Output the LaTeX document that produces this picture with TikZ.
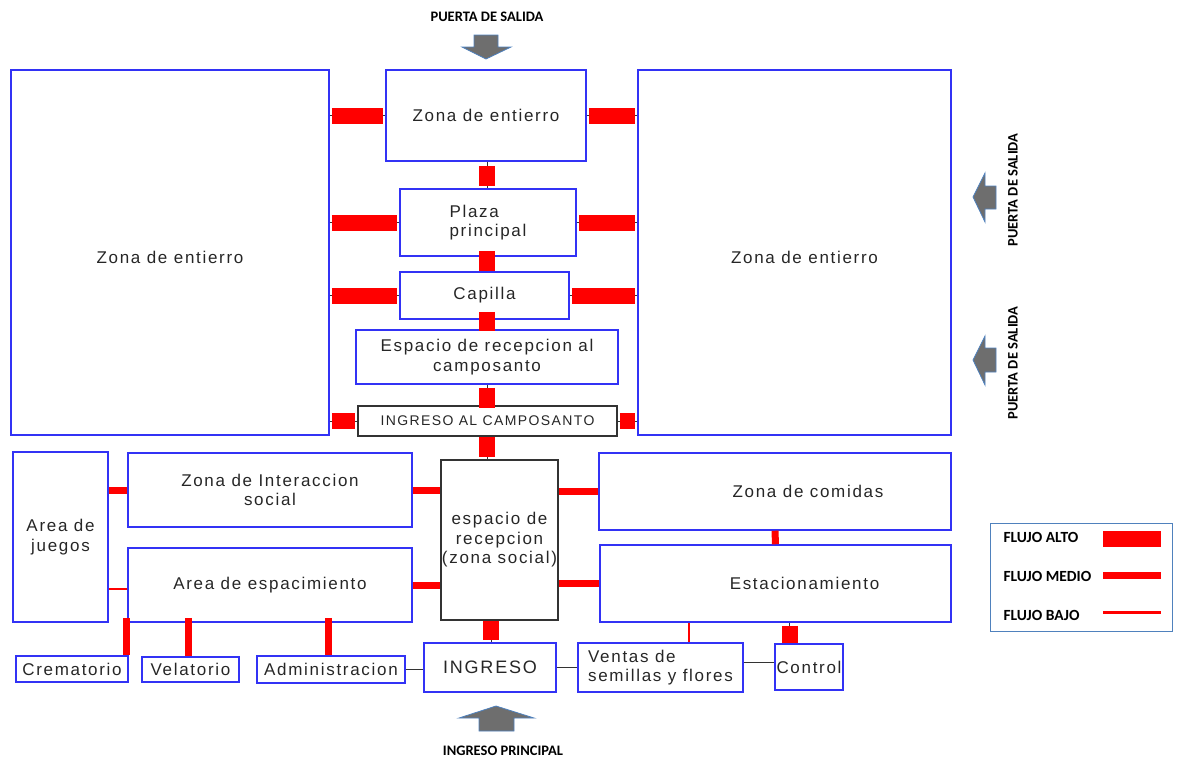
\documentclass[tikz,border=0pt]{standalone}
\usepackage{fontspec}
\setmainfont{Liberation Sans}[LetterSpace=10]
\newfontfamily\rotfont{Carlito}
\usepackage{xcolor}
\definecolor{azulzona}{RGB}{50,50,245}
\definecolor{rojoflujo}{RGB}{255,0,0}
\definecolor{grisflecha}{RGB}{110,110,110}
\definecolor{bordeflecha}{RGB}{79,129,189}
\definecolor{textozona}{RGB}{38,38,38}

\begin{document}
\begin{tikzpicture}[x=1pt,y=-1pt,
  texto/.style={text=textozona,font=\fontsize{17}{19.5}\selectfont},
  zona/.style={texto,draw=azulzona,line width=1.5pt,inner sep=1pt,align=center},
  zonanegra/.style={zona,draw=black!80},
  enlace/.style={black!80,line width=0.8pt},
  alto/.style={rojoflujo,line width=16pt,shorten <=2pt,shorten >=2pt},
  medio/.style={rojoflujo,line width=7pt},
  bajo/.style={rojoflujo,line width=2.5pt},
  flecha/.style={fill=grisflecha,draw=bordeflecha,line width=0.8pt},
  rotulo/.style={font=\rotfont\bfseries\fontsize{14.5}{16}\selectfont}]
  \useasboundingbox (0,0) rectangle (1179,758);

  % zonas de entierro y eje del camposanto
  \node[zona,minimum width=318pt,minimum height=365pt,
    label={[texto,yshift=-5pt]center:Zona de entierro}] (zizq) at (170,252.5) {};
  \node[zona,minimum width=313pt,minimum height=365pt,
    label={[texto,xshift=10pt,yshift=-5pt]center:Zona de entierro}] (zder) at (794.5,252.5) {};
  \node[zona,minimum width=200pt,minimum height=91pt] (zcen) at (486,115.5) {Zona de entierro};
  \node[zona,minimum width=176pt,minimum height=67pt,align=left] (plaza) at (488,222.5) {Plaza\\principal};
  \node[zona,minimum width=169pt,minimum height=47pt] (capilla) at (484.5,295.5) {Capilla};
  \node[zona,minimum width=262pt,minimum height=54pt] (recep) at (487,357) {Espacio de recepcion al\\camposanto};
  \node[zonanegra,minimum width=259pt,minimum height=30pt,font=\fontsize{14}{16}\selectfont] (ingcamp) at (487.5,421) {INGRESO AL CAMPOSANTO};

  % zona social
  \node[zona,minimum width=95pt,minimum height=170pt] (juegos) at (60.5,537) {Area de\\juegos};
  \node[zona,minimum width=284pt,minimum height=74pt] (interac) at (270,490) {Zona de Interaccion\\social};
  \node[zona,minimum width=284pt,minimum height=74pt] (espac) at (270,585) {Area de espacimiento};
  \node[zonanegra,minimum width=117pt,minimum height=160pt,inner sep=0pt] (social) at (499.5,540) {espacio de\\recepcion\\(zona social)};
  \node[zona,minimum width=352pt,minimum height=77pt,
    label={[texto,xshift=33pt]center:Zona de comidas}] (comidas) at (775,491.5) {};
  \node[zona,minimum width=351pt,minimum height=77pt,
    label={[texto,xshift=29pt]center:Estacionamiento}] (estac) at (775.5,583.5) {};

  % servicios
  \node[zona,minimum width=112pt,minimum height=26pt] (crem) at (72,669) {Crematorio};
  \node[zona,minimum width=97pt,minimum height=25pt] (velat) at (190.5,669.5) {Velatorio};
  \node[zona,minimum width=148pt,minimum height=27pt] (admin) at (331,669.5) {Administracion};
  \node[zona,minimum width=132pt,minimum height=49pt,font=\fontsize{18}{21}\selectfont] (ingreso) at (490,667.5) {INGRESO};
  \node[zona,minimum width=165pt,minimum height=49pt,align=left] (ventas) at (660.5,667.5) {Ventas de\\semillas y flores};
  \node[zona,minimum width=68pt,minimum height=46pt,inner sep=0pt] (control) at (809,667) {Control};

  % flujos del camposanto
  \foreach \z in {zcen,plaza,capilla,ingcamp}{
    \draw[enlace] (zizq.east |- \z) -- (\z.west);
    \draw[alto] (zizq.east |- \z) -- (\z.west);
    \draw[enlace] (\z.east) -- (\z.east -| zder.west);
    \draw[alto] (\z.east) -- (\z.east -| zder.west);
  }
  \foreach \a/\b/\i/\f in {zcen/plaza/4/2,plaza/capilla/-6/0,capilla/recep/-8/-2,recep/ingcamp/3/-3,ingcamp/social/0/2}{
    \draw[enlace] (\a.south -| 487,0) -- (\b.north -| 487,0);
    \draw[alto,shorten <=\i pt,shorten >=\f pt] (\a.south -| 487,0) -- (\b.north -| 487,0);
  }

  % flujos de la zona social
  \draw[medio] (juegos.east |- interac) -- (interac.west);
  \draw[medio] (interac.east) -- (interac.east -| social.west);
  \draw[enlace] ([yshift=-4pt]espac.west) -- ([yshift=-4pt]espac.west -| juegos.east);
  \draw[bajo] ([yshift=-4pt]espac.west) -- ([yshift=-4pt]espac.west -| juegos.east);
  \draw[medio] (espac.east) -- (espac.east -| social.west);
  \draw[medio] (social.east |- comidas) -- (comidas.west);
  \draw[medio] (social.east |- estac) -- (estac.west);
  \draw[medio] (comidas.south) -- (estac.north);
  \foreach \s/\x in {crem/126.5,velat/188.5,admin/328.5}
    \draw[medio,shorten <=-5pt] (espac.south -| \x,0) -- (\s.north -| \x,0);
  \draw[enlace] (social.south -| 491,0) -- (ingreso.north -| 491,0);
  \draw[alto,shorten <=0pt] (social.south -| 491,0) -- (ingreso.north -| 491,0);
  \draw[bajo] (estac.south -| 689,0) -- (ventas.north -| 689,0);
  \draw[enlace] (estac.south -| 789.5,0) -- (control.north -| 789.5,0);
  \draw[alto,shorten <=3pt,shorten >=0pt] (estac.south -| 789.5,0) -- (control.north -| 789.5,0);
  \draw[enlace] (admin.east) -- (admin.east -| ingreso.west);
  \draw[enlace] (ingreso.east) -- (ingreso.east -| ventas.west);
  \draw[enlace] ([yshift=5pt]ventas.east) -- ([yshift=5pt]ventas.east -| control.west);

  % puertas
  \draw[flecha] (474,35) -- (498,35) -- (498,47) -- (511,47) -- (486,59) -- (462,47) -- (474,47) -- cycle;
  \draw[flecha] (996,186) -- (996,209) -- (985,209) -- (985,222) -- (973,197) -- (985,173) -- (985,186) -- cycle;
  \draw[flecha] (996,348) -- (996,372) -- (985,372) -- (985,385) -- (973,360) -- (985,336) -- (985,348) -- cycle;
  \draw[flecha] (479,731) -- (514,731) -- (514,718) -- (534,718) -- (496,706) -- (459,718) -- (479,718) -- cycle;
  \node[rotulo] (salidasup) at (487,17) {PUERTA DE SALIDA};
  \node[rotulo,rotate=90] (salidader1) at (1013,190) {PUERTA DE SALIDA};
  \node[rotulo,rotate=90] (salidader2) at (1013,363) {PUERTA DE SALIDA};
  \node[rotulo] (ingprin) at (503,751) {INGRESO PRINCIPAL};

  % leyenda
  \node[draw=bordeflecha,line width=1pt,minimum width=182pt,minimum height=108pt] (leyenda) at (1081,577) {};
  \node[rotulo,font=\rotfont\bfseries\fontsize{15.5}{17}\selectfont,anchor=west] (lalto) at (1000,537) {FLUJO ALTO};
  \node[rotulo,font=\rotfont\bfseries\fontsize{15.5}{17}\selectfont,anchor=west] (lmedio) at (1000,576) {FLUJO MEDIO};
  \node[rotulo,font=\rotfont\bfseries\fontsize{15.5}{17}\selectfont,anchor=west] (lbajo) at (1000,615) {FLUJO BAJO};
  \draw[alto,shorten <=0pt,shorten >=0pt] (1103,539) -- (1161,539);
  \draw[medio] (1103,575.5) -- (1161,575.5);
  \draw[bajo] (1103,612.5) -- (1161,612.5);
\end{tikzpicture}
\end{document}
